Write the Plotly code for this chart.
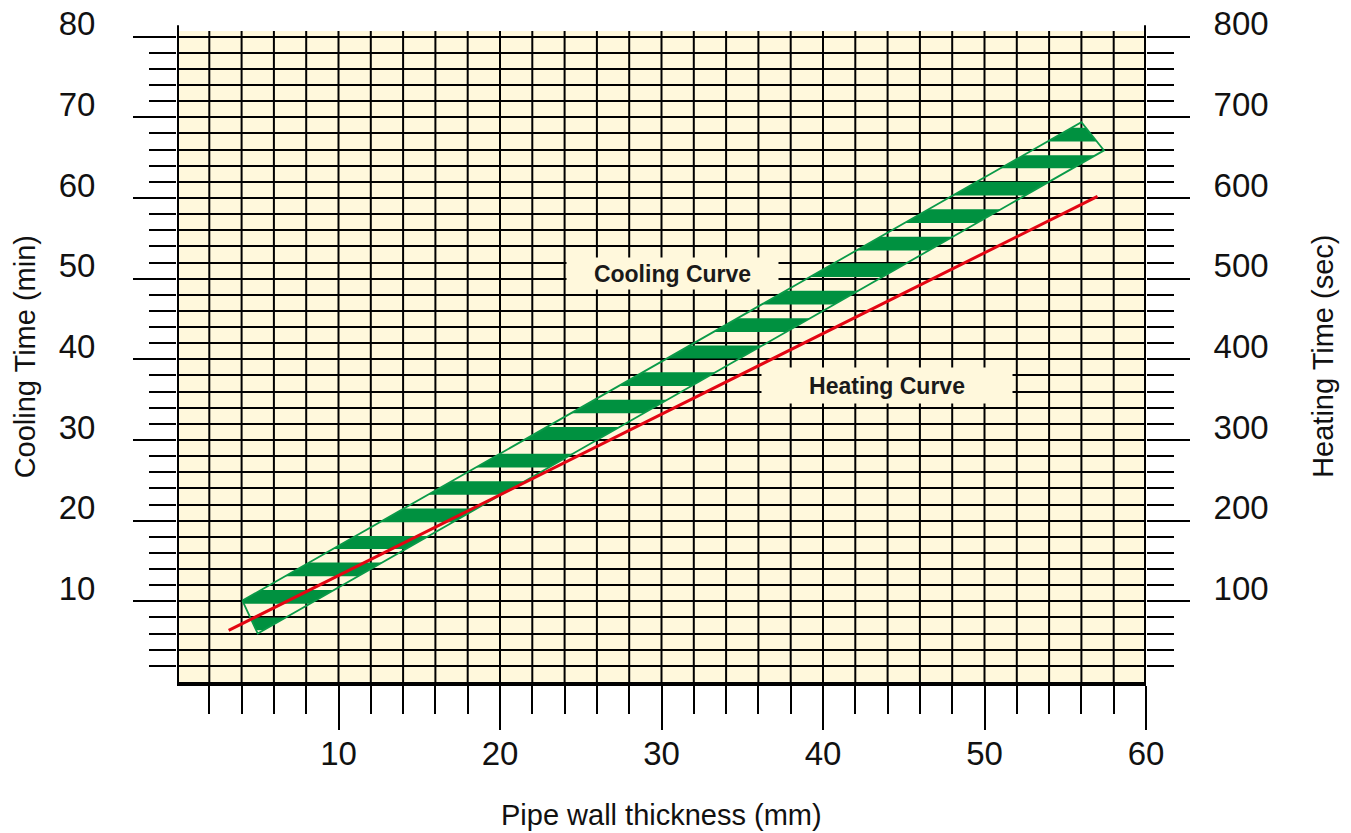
import plotly.graph_objects as go

# ---------------- data ----------------
# Cooling-time band (parallelogram corners): pipe wall thickness (mm) / cooling time (min)
band_thickness_mm = [4.05, 5.0, 57.4, 56.0]
band_cooling_min = [10.1, 6.0, 65.9, 69.4]

# hatch stripes inside the band (lower / upper cooling time, min)
stripe_lo_min = [67.0, 63.7, 60.3, 56.9, 53.5, 50.2, 46.8, 43.4, 40.1, 36.7,
                 33.3, 30.0, 26.6, 23.2, 19.8, 16.5, 13.1, 9.7, 6.4]
stripe_hi_min = [68.7, 65.3, 62.0, 58.6, 55.2, 51.9, 48.5, 45.1, 41.7, 38.4,
                 35.0, 31.6, 28.3, 24.9, 21.5, 18.1, 14.8, 11.4, 8.0]

# Heating curve: pipe wall thickness (mm) / heating time (sec)
heating_thickness_mm = [3.2, 57.0]
heating_time_sec = [64, 602]

# axis ticks / grid
x_major = [10, 20, 30, 40, 50, 60]
x_minor = [v for v in range(2, 60, 2) if v % 10]
x_grid = list(range(2, 60, 2))
y_major = [10, 20, 30, 40, 50, 60, 70, 80]
y_minor = [v for v in range(2, 80, 2) if v % 10]
y2_major = [100, 200, 300, 400, 500, 600, 700, 800]
y2_minor = [v for v in range(20, 800, 20) if v % 100]

X_MAX = 60
Y_TOP = 80.7
Y2_TOP = 807

labels = ["Cooling Curve", "Heating Curve"]

# ---------------- helpers ----------------
def clip(poly, keep, ycut):
    out = []
    n = len(poly)
    for i in range(n):
        cur, prev = poly[i], poly[i - 1]
        cin, pin = keep(cur[1]), keep(prev[1])
        if cin != pin:
            t = (ycut - prev[1]) / (cur[1] - prev[1])
            out.append((prev[0] + t * (cur[0] - prev[0]), ycut))
        if cin:
            out.append(cur)
    return out

band = list(zip(band_thickness_mm, band_cooling_min))
sx, sy = [], []
for lo, hi in zip(stripe_lo_min, stripe_hi_min):
    p = clip(band, lambda y: y >= lo, lo)
    p = clip(p, lambda y: y <= hi, hi)
    if p:
        p.append(p[0])
        sx += [q[0] for q in p] + [None]
        sy += [q[1] for q in p] + [None]

gx, gy = [], []
for v in x_grid:
    gx += [v, v, None]
    gy += [0, Y_TOP, None]

GREEN = "#009140"
CREAM = "#FFF8DC"
FONT = "Liberation Sans, Arial, sans-serif"

fig = go.Figure()
# vertical grid lines
fig.add_trace(go.Scatter(x=gx, y=gy, mode="lines", line=dict(color="black", width=2),
                         hoverinfo="skip", showlegend=False, cliponaxis=False))
fig.add_trace(go.Scatter(x=sx, y=sy, mode="lines", fill="toself", fillcolor=GREEN,
                         line=dict(width=0, color=GREEN), hoverinfo="skip", showlegend=False))
fig.add_trace(go.Scatter(x=band_thickness_mm + band_thickness_mm[:1],
                         y=band_cooling_min + band_cooling_min[:1],
                         mode="lines", line=dict(color="#0A9A48", width=1.8),
                         showlegend=False, hoverinfo="skip"))
fig.add_trace(go.Scatter(x=heating_thickness_mm, y=heating_time_sec, yaxis="y2",
                         mode="lines", line=dict(color="#E30613", width=3),
                         showlegend=False))

tickfont = dict(family=FONT, size=33, color="#111111")

fig.update_layout(
    width=1351, height=833, autosize=False,
    margin=dict(l=177, r=205, t=31, b=151),
    paper_bgcolor="white", plot_bgcolor=CREAM,
    font=dict(family=FONT, color="#111111"),
    xaxis=dict(range=[0, X_MAX], tickmode="array", tickvals=x_major,
               ticktext=[str(v) for v in x_major], ticks="outside", ticklen=44,
               tickwidth=2, tickcolor="black", tickfont=tickfont,
               ticklabelstandoff=-5, automargin=False,
               showgrid=False,
               showline=True, linecolor="black", linewidth=4,
               minor=dict(tickmode="array", tickvals=x_minor, ticks="outside",
                          ticklen=28, tickwidth=2, tickcolor="black", showgrid=False),
               zeroline=False, fixedrange=True),
    yaxis=dict(range=[0, Y_TOP], tickmode="array", tickvals=y_major,
               ticktext=[str(v) for v in y_major], ticks="outside", ticklen=43,
               tickwidth=2, tickcolor="black", tickfont=tickfont,
               ticklabelshift=-13, ticklabelstandoff=31, automargin=False,
               showgrid=True, gridcolor="black", gridwidth=2,
               showline=False,
               minor=dict(tickmode="array", tickvals=y_minor, ticks="outside",
                          ticklen=27, tickwidth=2, tickcolor="black",
                          showgrid=True, gridcolor="black", gridwidth=2),
               zeroline=False, fixedrange=True),
    yaxis2=dict(range=[0, Y2_TOP], overlaying="y", side="right", tickmode="array",
                tickvals=y2_major, ticktext=[str(v) for v in y2_major],
                ticks="outside", ticklen=43, tickwidth=2, tickcolor="black",
                tickfont=tickfont, ticklabelshift=-13, ticklabelstandoff=17,
                automargin=False,
                showgrid=False, showline=False, zeroline=False,
                minor=dict(tickmode="array", tickvals=y2_minor, ticks="outside",
                           ticklen=27, tickwidth=2, tickcolor="black", showgrid=False),
                fixedrange=True),
    showlegend=False,
)

# axis lines on left and right (extend slightly above plot area)
for xv in (0, X_MAX):
    fig.add_shape(type="line", xref="x", yref="paper", x0=xv, x1=xv, y0=0, y1=1.009,
                  line=dict(color="black", width=4), layer="above")

# curve labels (boxes covering the grid)
fig.add_annotation(x=30.69, y=50.67, xref="x", yref="y", text="<b>" + labels[0] + "</b>",
                   showarrow=False, bgcolor=CREAM, width=211, height=31, borderpad=0,
                   font=dict(family=FONT, size=23, color="#1A1A1A"))
fig.add_annotation(x=43.95, y=36.8, xref="x", yref="y", text="<b>" + labels[1] + "</b>",
                   showarrow=False, bgcolor=CREAM, width=250, height=35, borderpad=0,
                   font=dict(family=FONT, size=23, color="#1A1A1A"))

# axis titles
fig.add_annotation(x=30, y=-0.205, xref="x", yref="paper", yanchor="middle",
                   text="Pipe wall thickness (mm)", showarrow=False,
                   font=dict(family=FONT, size=29, color="#111111"))
fig.add_annotation(x=-0.157, y=0.5, xref="paper", yref="paper", xanchor="center",
                   text="Cooling Time (min)", textangle=-90, showarrow=False,
                   font=dict(family=FONT, size=29, color="#111111"))
fig.add_annotation(x=1.182, y=0.5, xref="paper", yref="paper", xanchor="center",
                   text="Heating Time (sec)", textangle=-90, showarrow=False,
                   font=dict(family=FONT, size=29, color="#111111"))

fig.write_html("out.html", config={"displayModeBar": False},
               post_script="document.body.style.margin='0';")
